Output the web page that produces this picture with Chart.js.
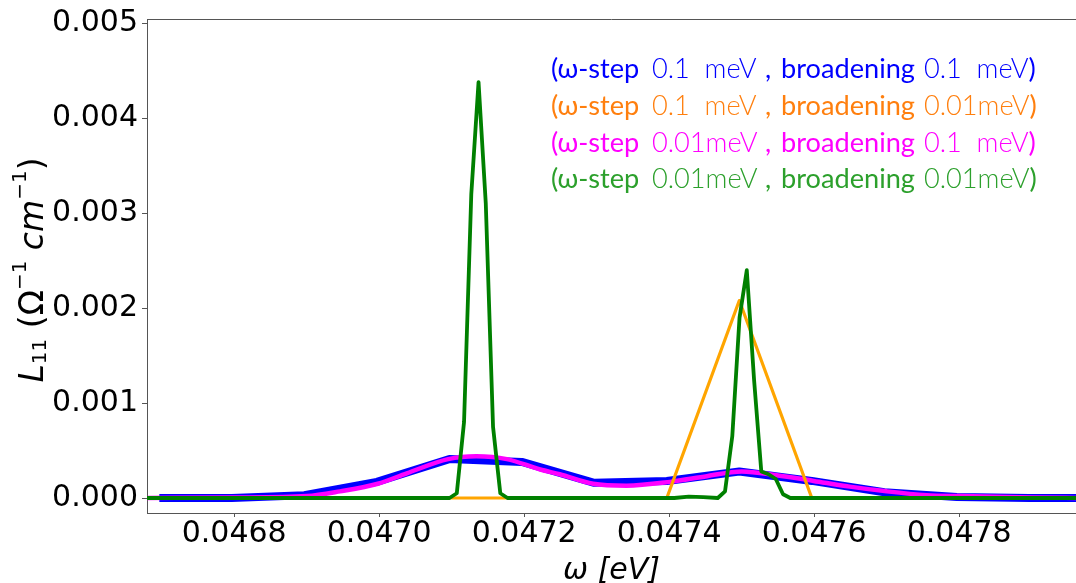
<!DOCTYPE html>
<html>
<head>
<meta charset="utf-8">
<script src="https://cdn.jsdelivr.net/npm/chart.js@4.4.0/dist/chart.umd.min.js"></script>
<style>
  html, body { margin: 0; padding: 0; background: #ffffff; }
  #wrap { width: 1076px; height: 583px; }
</style>
</head>
<body>
<div id="wrap"><canvas id="c" width="1076" height="583"></canvas></div>
<script>
// ---------------- data ----------------
// coarse ω grid (ω-step 0.1 meV), eV
const coarseOmega = [0.0466967, 0.0467967, 0.0468967, 0.0469967, 0.0470967, 0.0471967, 0.0472967,
                     0.0473967, 0.0474967, 0.0475967, 0.0476967, 0.0477967, 0.0478967, 0.0479967];
// blue: ω-step 0.1 meV, broadening 0.1 meV
const blueL11 = [0.0, 0.0, 0.00003, 0.00017, 0.00041, 0.00038, 0.00016,
                 0.00018, 0.00028, 0.00018, 0.00006, 0.00001, 0.0, 0.0];
// orange: ω-step 0.1 meV, broadening 0.01 meV
const orangeL11 = [0, 0, 0, 0, 0, 0, 0, 0, 0.00208, 0, 0, 0, 0, 0];
// magenta: ω-step 0.01 meV, broadening 0.1 meV (read vertices)
const magentaOmega = [0.04668, 0.04680, 0.04690, 0.046946, 0.046998, 0.047038, 0.047095, 0.047134,
                      0.047176, 0.047222, 0.047249, 0.047295, 0.047341, 0.047401, 0.047452, 0.0475,
                      0.047548, 0.047599, 0.047649, 0.0477, 0.047755, 0.047801, 0.04790, 0.04797];
const magentaL11 = [0.0, 0.000005, 0.00002, 0.00007, 0.00015, 0.00026, 0.00041, 0.00044,
                    0.00041, 0.00030, 0.00025, 0.00015, 0.00013, 0.00017, 0.00023, 0.00028,
                    0.00024, 0.00018, 0.00012, 0.00007, 0.00003, 0.00002, 0.000005, 0.0];
// green: ω-step 0.01 meV, broadening 0.01 meV (read vertices)
const greenOmega = [0.046677, 0.047097, 0.047107, 0.047117, 0.047127, 0.047137, 0.047147, 0.047157,
                    0.047167, 0.047177, 0.047407, 0.047427, 0.047447, 0.047467, 0.047477, 0.047487,
                    0.047497, 0.047507, 0.047517, 0.047527, 0.047537, 0.047547, 0.047557, 0.047567,
                    0.047997];
const greenL11 = [0, 0, 0.00005, 0.0008, 0.0032, 0.00438, 0.0031, 0.00075,
                  0.00005, 0, 0, 0.000015, 0.00001, 0, 0.00007, 0.00065,
                  0.0019, 0.0024, 0.00125, 0.00028, 0.00025, 0.0002, 0.00004, 0,
                  0];
const seriesStepText  = ['0.1  meV', '0.1  meV', '0.01meV', '0.01meV'];
const seriesBroadText = ['0.1  meV', '0.01meV', '0.1  meV', '0.01meV'];
const xTickValues = [0.0468, 0.0470, 0.0472, 0.0474, 0.0476, 0.0478];
const yTickValues = [0.000, 0.001, 0.002, 0.003, 0.004, 0.005];

// ---------------- styling ----------------
const AXIS_COLOR = '#555555';
const legendColors = ['#0000ff', '#ff7f0e', '#ff00ff', '#2ca02c'];

const pts = (xs, ys) => xs.map((x, i) => ({ x: x, y: ys[i] }));

const frameTop = {
  id: 'frameTop',
  afterDraw(chart) {
    const { ctx, chartArea } = chart;
    ctx.save();
    ctx.strokeStyle = AXIS_COLOR;
    ctx.lineWidth = 1;
    ctx.beginPath();
    ctx.moveTo(chartArea.left, Math.round(chartArea.top) + 0.5);
    ctx.lineTo(chartArea.right, Math.round(chartArea.top) + 0.5);
    ctx.stroke();
    ctx.restore();
  }
};

const textLegend = {
  id: 'textLegend',
  afterDraw(chart) {
    const ctx = chart.ctx;
    ctx.save();
    const family = 'Lato, "Open Sans", "DejaVu Sans", sans-serif';
    ctx.font = `100px ${family}`;
    const size = 100 * 134 / ctx.measureText('broadening').width;
    ctx.textBaseline = 'alphabetic';
    ctx.textAlign = 'left';
    const baselines = [78, 115, 152, 188];
    for (let i = 0; i < 4; i++) {
      const y = baselines[i];
      ctx.fillStyle = legendColors[i];
      ctx.font = `${size}px ${family}`;
      ctx.fillText('(ω-step', 551, y);
      ctx.fillText(',', 765, y);
      ctx.fillText('broadening', 781, y);
      ctx.font = `300 ${size}px ${family}`;
      ctx.fillText(seriesStepText[i], 652, y);
      const tail = seriesBroadText[i];
      ctx.fillText(tail, 924, y);
      const w = ctx.measureText(tail).width;
      ctx.font = `${size}px ${family}`;
      ctx.fillText(')', 924 + w, y);
    }
    ctx.restore();
  }
};

const yTitle = {
  id: 'yTitle',
  afterDraw(chart) {
    const ctx = chart.ctx;
    const main = 33, small = 20;
    const fam = '"DejaVu Sans"';
    const segs = [
      { t: 'L', f: `italic ${main}px ${fam}`, dy: 0 },
      { t: '11', f: `${small}px ${fam}`, dy: 3 },
      { t: ' (Ω', f: `${main}px ${fam}`, dy: 0 },
      { t: '−1', f: `${small}px ${fam}`, dy: -17 },
      { t: ' ', f: `${main}px ${fam}`, dy: 0 },
      { t: 'cm', f: `italic ${main}px ${fam}`, dy: 0 },
      { t: '−1', f: `${small}px ${fam}`, dy: -17 },
      { t: ')', f: `${main}px ${fam}`, dy: 0 }
    ];
    ctx.save();
    let total = 0;
    segs.forEach(s => { ctx.font = s.f; s.w = ctx.measureText(s.t).width; total += s.w; });
    ctx.translate(43, 270);
    ctx.rotate(-Math.PI / 2);
    ctx.fillStyle = '#000';
    ctx.textBaseline = 'alphabetic';
    ctx.textAlign = 'left';
    let x = -total / 2;
    segs.forEach(s => { ctx.font = s.f; ctx.fillText(s.t, x, s.dy); x += s.w; });
    ctx.restore();
  }
};

new Chart(document.getElementById('c'), {
  type: 'line',
  data: {
    datasets: [
      { label: '(ω-step 0.1 meV , broadening 0.1 meV)', data: pts(coarseOmega, blueL11),
        borderColor: '#0000ff', borderWidth: 8, order: 4 },
      { label: '(ω-step 0.01meV , broadening 0.1 meV)', data: pts(magentaOmega, magentaL11),
        borderColor: '#ff00ff', borderWidth: 4.5, order: 3, cubicInterpolationMode: 'monotone' },
      { label: '(ω-step 0.1 meV , broadening 0.01meV)', data: pts(coarseOmega, orangeL11),
        borderColor: '#ffa500', borderWidth: 3.2, order: 2 },
      { label: '(ω-step 0.01meV , broadening 0.01meV)', data: pts(greenOmega, greenL11),
        borderColor: '#008000', borderWidth: 3.8, order: 1 }
    ]
  },
  options: {
    responsive: false,
    animation: false,
    devicePixelRatio: 1,
    layout: { padding: { top: 18, right: 0, bottom: 0, left: 0 } },
    elements: {
      point: { radius: 0, hoverRadius: 0 },
      line: { tension: 0, fill: false, borderJoinStyle: 'round', borderCapStyle: 'butt' }
    },
    datasets: { line: { clip: 0 } },
    plugins: { legend: { display: false }, tooltip: { enabled: false } },
    scales: {
      x: {
        type: 'linear',
        min: 0.0466797,
        max: 0.0479611,
        afterBuildTicks: (s) => { s.ticks = xTickValues.map(v => ({ value: v })); },
        afterFit: (s) => { s.height = 70; },
        ticks: {
          autoSkip: false, maxRotation: 0, padding: 2,
          color: '#000', font: { family: '"DejaVu Sans"', size: 30, lineHeight: 1 },
          callback: (v) => Number(v).toFixed(4)
        },
        grid: { drawOnChartArea: false, drawTicks: true, tickLength: 4, color: AXIS_COLOR },
        border: { display: true, color: AXIS_COLOR, width: 1 },
        title: {
          display: true, text: 'ω [eV]', color: '#000',
          font: { family: '"DejaVu Sans"', size: 30, style: 'italic', lineHeight: 1 },
          padding: { top: 0, bottom: -3 }
        }
      },
      y: {
        type: 'linear',
        min: -0.000158,
        max: 0.005046,
        afterBuildTicks: (s) => { s.ticks = yTickValues.map(v => ({ value: v })); },
        afterFit: (s) => { s.width = 147; },
        ticks: {
          autoSkip: false, padding: 4,
          color: '#000', font: { family: '"DejaVu Sans"', size: 30, lineHeight: 1 },
          callback: (v) => Number(v).toFixed(3)
        },
        grid: { drawOnChartArea: false, drawTicks: true, tickLength: 5, color: AXIS_COLOR },
        border: { display: true, color: AXIS_COLOR, width: 1 }
      }
    }
  },
  plugins: [frameTop, textLegend, yTitle]
});
</script>
</body>
</html>
